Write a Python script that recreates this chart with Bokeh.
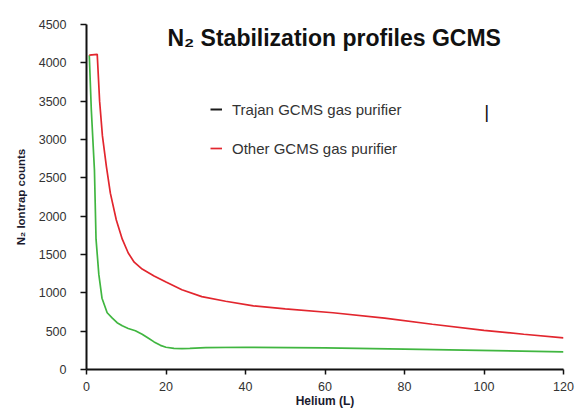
from bokeh.plotting import figure
from bokeh.models import Legend, LegendItem, Label, FixedTicker, Range1d
from bokeh.embed import file_html
from bokeh.resources import INLINE

# ---- data ----
helium_trajan = [0.7, 1.2, 2.0, 2.4, 3.1, 3.9, 5.2, 6.5, 7.7, 9.0, 10.5, 12.3, 14.0,
                 15.5, 17.0, 18.6, 20.0, 22.0, 24.0, 26.0, 30.0, 40.0, 60.0, 80.0, 95.0, 120.0]
counts_trajan = [4100, 3400, 2600, 1700, 1240, 930, 740, 670, 610, 570, 535, 505, 460,
                 410, 360, 315, 290, 275, 272, 275, 285, 290, 283, 265, 252, 230]

helium_other = [0.7, 2.7, 3.3, 4.0, 5.0, 6.0, 7.5, 9.0, 10.5, 12.0, 14.0, 17.0, 20.0,
                24.0, 29.0, 35.0, 42.0, 50.0, 62.0, 75.0, 87.0, 100.0, 110.0, 120.0]
counts_other = [4100, 4110, 3500, 3050, 2650, 2300, 1950, 1700, 1520, 1400, 1310, 1220, 1140,
                1040, 950, 890, 830, 790, 740, 670, 590, 510, 460, 413]

x_ticks = [0, 20, 40, 60, 80, 100, 120]
y_ticks = [0, 500, 1000, 1500, 2000, 2500, 3000, 3500, 4000, 4500]
series_names = ["Trajan GCMS gas purifier", "Other GCMS gas purifier"]
chart_title = "N\u2082 Stabilization profiles GCMS"
x_title = "Helium (L)"
y_title = "N\u2082 Iontrap counts"

FONT = "'Liberation Sans', Arial, Helvetica, sans-serif"
GREEN = "#40b640"
RED = "#e2262e"

p = figure(width=576, height=410, x_range=Range1d(0, 120), y_range=Range1d(0, 4500),
           output_backend="svg", toolbar_location=None,
           min_border_left=86, min_border_right=13, min_border_top=24, min_border_bottom=41)
p.outline_line_color = None
p.grid.visible = False
p.background_fill_color = "white"
p.border_fill_color = "white"

for ax in (p.xaxis[0], p.yaxis[0]):
    ax.axis_line_color = "#111111"
    ax.axis_line_width = 2
    ax.major_tick_line_color = "#111111"
    ax.major_tick_line_width = 1.5
    ax.major_tick_in = 0
    ax.minor_tick_line_color = None
    ax.major_label_text_font = FONT
    ax.major_label_text_font_size = "12.5px"
    ax.major_label_text_color = "#333333"
    ax.axis_label_text_font = FONT
    ax.axis_label_text_font_style = "bold"
    ax.axis_label_text_color = "#1a1a2e"

p.xaxis.ticker = FixedTicker(ticks=x_ticks)
p.yaxis.ticker = FixedTicker(ticks=y_ticks)
p.xaxis.major_tick_out = 5
p.yaxis.major_tick_out = 6
p.xaxis.major_label_standoff = 7
p.yaxis.major_label_standoff = 14
p.xaxis.axis_label = x_title
p.yaxis.axis_label = y_title
p.xaxis.axis_label_text_font_size = "12px"
p.yaxis.axis_label_text_font_size = "11.5px"
p.xaxis.axis_label_standoff = 0
p.yaxis.axis_label_standoff = 9

r_tr = p.line(helium_trajan, counts_trajan, line_color=GREEN, line_width=1.7)
r_ot = p.line(helium_other, counts_other, line_color=RED, line_width=1.7)
# legend key for the first series (drawn dark in the reference); a single point draws no line
r_key = p.line(helium_trajan[:1], counts_trajan[:1], line_color="#1a1a1a", line_width=2)

legend = Legend(items=[LegendItem(label=series_names[0], renderers=[r_key]),
                       LegendItem(label=series_names[1], renderers=[r_ot])],
                location=(124, 211), orientation="vertical", spacing=19,
                glyph_width=12, glyph_height=20, label_height=20, label_standoff=10,
                padding=0, margin=0, border_line_color=None, background_fill_alpha=0,
                label_text_font=FONT, label_text_font_size="15px", label_text_color="#333333")
p.add_layout(legend)

p.add_layout(Label(x=62.3, y=4330, text=chart_title, text_font=FONT, text_font_size="23px",
                   text_font_style="bold", text_color="#111111",
                   text_align="center", text_baseline="alphabetic"))
p.add_layout(Label(x=100.7, y=3365, text="|", text_font=FONT, text_font_size="19px",
                   text_color="#111111", text_align="center", text_baseline="middle"))

open("out.html", "w").write(file_html(p, INLINE))
